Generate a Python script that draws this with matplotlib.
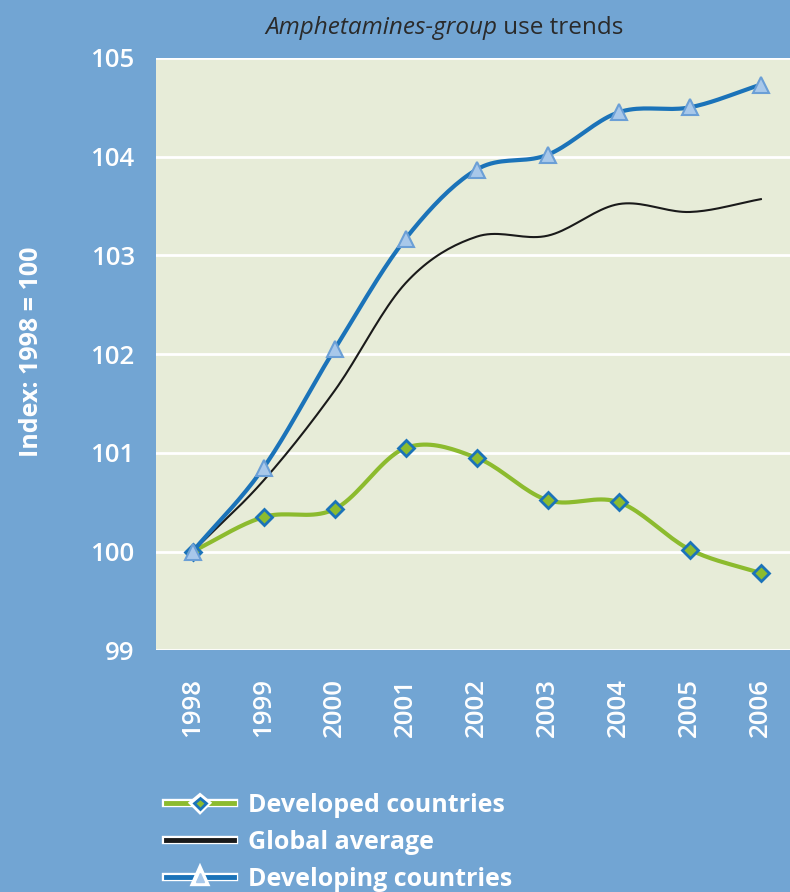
import numpy as np
import matplotlib.pyplot as plt
import matplotlib.patheffects as pe
from matplotlib.lines import Line2D

years = [1998, 1999, 2000, 2001, 2002, 2003, 2004, 2005, 2006]
developed = [100.0, 100.35, 100.43, 101.05, 100.95, 100.52, 100.5, 100.02, 99.78]
global_avg = [100.0, 100.72, 101.63, 102.72, 103.19, 103.2, 103.52, 103.44, 103.57]
developing = [100.0, 100.85, 102.05, 103.17, 103.87, 104.02, 104.45, 104.5, 104.73]

bg = '#72a5d3'
face = '#e7ecd8'
green = '#8cbb2e'
blue = '#1b73b9'
light_blue = '#a8c8ea'

plt.rcParams['font.family'] = ['Open Sans', 'DejaVu Sans']


def smooth(x, y, n=20):
    # catmull-rom curve through the points, just for drawing
    x = np.asarray(x, float)
    y = np.asarray(y, float)
    px = np.concatenate([[2 * x[0] - x[1]], x, [2 * x[-1] - x[-2]]])
    py = np.concatenate([[2 * y[0] - y[1]], y, [2 * y[-1] - y[-2]]])
    xs, ys = [], []
    t = np.linspace(0, 1, n, endpoint=False)
    for i in range(1, len(px) - 2):
        for p, out in ((px, xs), (py, ys)):
            p0, p1, p2, p3 = p[i - 1], p[i], p[i + 1], p[i + 2]
            out.extend(0.5 * (2 * p1 + (-p0 + p2) * t + (2 * p0 - 5 * p1 + 4 * p2 - p3) * t ** 2
                              + (-p0 + 3 * p1 - 3 * p2 + p3) * t ** 3))
    xs.append(x[-1])
    ys.append(y[-1])
    return xs, ys


fig = plt.figure(figsize=(7.9, 8.92), dpi=100, facecolor=bg)
ax = fig.add_axes([0.197, 0.271, 0.803, 0.664])
ax.set_facecolor(face)

sx, sy = smooth(years, developed)
ax.plot(sx, sy, color=green, lw=3, zorder=3)
ax.plot(years, developed, ls='none', marker='D', ms=8, mfc=green, mec=blue, mew=2, zorder=5)

sx, sy = smooth(years, global_avg)
ax.plot(sx, sy, color='#1a1a1a', lw=1.5, zorder=3)

sx, sy = smooth(years, developing)
ax.plot(sx, sy, color=blue, lw=3, zorder=3)
ax.plot(years, developing, ls='none', marker='^', ms=11, mfc=light_blue, mec='#6b9fd6', mew=1.5, zorder=5)

ax.set_xlim(1997.48, 2006.41)
ax.set_ylim(99, 105)
ax.set_xticks(years)
ax.set_xticklabels([str(y) for y in years], rotation=90)
ax.set_yticks(range(99, 106))
ax.grid(axis='y', color='white', lw=2)
ax.set_axisbelow(True)
for s in ax.spines.values():
    s.set_visible(False)
ax.tick_params(length=0, colors='white', labelsize=18.5, pad=15)
ax.tick_params(axis='x', pad=20)
for lab in ax.get_xticklabels() + ax.get_yticklabels():
    lab.set_color('white')
    lab.set_fontweight('semibold')

fig.text(0.04, 0.606, 'Index: 1998 = 100', rotation=90, color='white', fontsize=18,
         fontweight='bold', ha='center', va='center')

t1 = fig.text(0.336, 0.969, 'Amphetamines-group', style='italic', fontsize=17.5,
              color='#2a2a2a', va='center', ha='left')
ax.annotate(' use trends', xy=(1, 0.5), xycoords=t1, va='center', ha='left',
            fontsize=17.5, color='#2a2a2a', annotation_clip=False)

stroke = [pe.Stroke(linewidth=6, foreground='white'), pe.Normal()]
handles = [
    Line2D([], [], color=green, lw=3.5, marker='D', ms=6, mfc=green, mec=blue, mew=2,
           path_effects=stroke),
    Line2D([], [], color='#1a1a1a', lw=3.5, path_effects=stroke),
    Line2D([], [], color=blue, lw=3.5, marker='^', ms=6, mfc=light_blue, mec=light_blue,
           path_effects=stroke),
]
labels = ['Developed countries', 'Global average', 'Developing countries']
leg = fig.legend(handles, labels, loc='upper left', bbox_to_anchor=(0.198, 0.122),
                 frameon=False, fontsize=18, handlelength=2.7, labelspacing=0.48,
                 handletextpad=0.55, borderaxespad=0)
for txt in leg.get_texts():
    txt.set_color('white')
    txt.set_fontweight('bold')

fig.savefig('out.png', dpi=100, facecolor=bg)
